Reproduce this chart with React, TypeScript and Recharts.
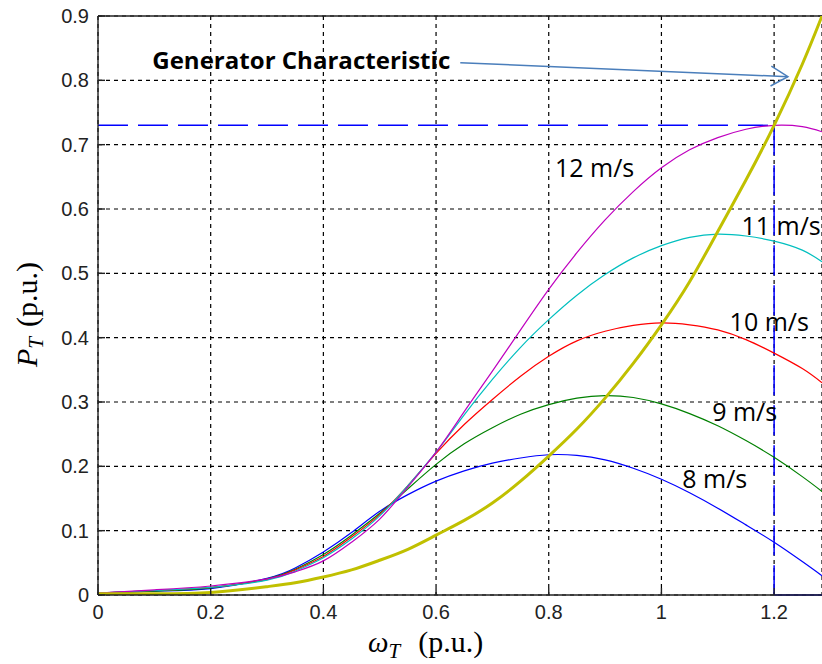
import React from "react";
import {
  LineChart,
  Line,
  XAxis,
  YAxis,
  CartesianGrid,
  ReferenceLine,
  ReferenceDot,
} from "recharts";

// rotor speed (p.u.)
const omega = [0, 0.1, 0.2, 0.3, 0.35, 0.4, 0.45, 0.5, 0.55, 0.6, 0.65, 0.7, 0.75, 0.8, 0.85, 0.9, 0.95, 1.0, 1.05, 1.1, 1.15, 1.2, 1.25, 1.285];

// turbine power (p.u.) per wind speed
const p8 = [0.003, 0.006, 0.010, 0.026, 0.042, 0.067, 0.097, 0.130, 0.156, 0.177, 0.193, 0.205, 0.213, 0.218, 0.217, 0.210, 0.197, 0.180, 0.159, 0.135, 0.109, 0.082, 0.052, 0.030];
const p9 = [0.003, 0.006, 0.011, 0.025, 0.040, 0.063, 0.093, 0.127, 0.165, 0.203, 0.235, 0.260, 0.281, 0.296, 0.306, 0.310, 0.307, 0.297, 0.282, 0.263, 0.240, 0.214, 0.184, 0.161];
const p10 = [0.003, 0.007, 0.012, 0.024, 0.039, 0.060, 0.090, 0.125, 0.170, 0.220, 0.265, 0.304, 0.340, 0.371, 0.395, 0.410, 0.419, 0.423, 0.420, 0.412, 0.397, 0.376, 0.352, 0.330];
const p11 = [0.003, 0.007, 0.012, 0.023, 0.037, 0.058, 0.087, 0.123, 0.170, 0.222, 0.280, 0.335, 0.385, 0.428, 0.466, 0.498, 0.524, 0.543, 0.556, 0.561, 0.558, 0.550, 0.536, 0.518];
const p12 = [0.003, 0.008, 0.014, 0.025, 0.036, 0.053, 0.082, 0.118, 0.168, 0.222, 0.285, 0.348, 0.412, 0.475, 0.532, 0.583, 0.627, 0.664, 0.692, 0.711, 0.724, 0.730, 0.728, 0.720];
// generator characteristic
const gen = [0.002, 0.002, 0.004, 0.013, 0.019, 0.028, 0.039, 0.054, 0.071, 0.093, 0.116, 0.143, 0.177, 0.216, 0.258, 0.306, 0.360, 0.420, 0.487, 0.565, 0.645, 0.730, 0.825, 0.900];

const xTicks = [0, 0.2, 0.4, 0.6, 0.8, 1, 1.2];
const yTicks = [0, 0.1, 0.2, 0.3, 0.4, 0.5, 0.6, 0.7, 0.8, 0.9];

// operating point
const optW = 1.2;
const optP = 0.73;

const speedLabels = [
  { text: "12 m/s", w: 0.811, p: 0.65 },
  { text: "11 m/s", w: 1.142, p: 0.559 },
  { text: "10 m/s", w: 1.121, p: 0.411 },
  { text: "9 m/s", w: 1.09, p: 0.271 },
  { text: "8 m/s", w: 1.037, p: 0.167 },
];

const arrowFrom = { w: 0.643, p: 0.8275 };
const arrowTo = { w: 1.2245, p: 0.8056 };
const genLabel = { text: "Generator Characteristic", w: 0.0963, p: 0.817 };

const series = [
  { key: "p8", color: "#0000ff" },
  { key: "p9", color: "#008000" },
  { key: "p10", color: "#ff0000" },
  { key: "p11", color: "#00bfbf" },
  { key: "p12", color: "#bf00bf" },
];

const data = omega.map((w, i) => ({
  w,
  p8: p8[i],
  p9: p9[i],
  p10: p10[i],
  p11: p11[i],
  p12: p12[i],
  gen: gen[i],
}));

const tickStyle = { fill: "#222", fontSize: 20, fontFamily: "Liberation Sans" };

const XTitle = (props: any) => {
  const vb = props.viewBox || { x: 98, y: 595 };
  return (
    <text x={vb.x + 270} y={vb.y + 57} textAnchor="start" fontFamily="Liberation Serif" fontSize={30} fill="#000">
      <tspan fontStyle="italic" fontSize={29}>ω</tspan>
      <tspan fontStyle="italic" fontSize={21} dy={6}>T</tspan>
      <tspan dy={-6} dx={18}>(p.u.)</tspan>
    </text>
  );
};

const YTitle = (props: any) => {
  const vb = props.viewBox || { x: 38, y: 16 };
  const cx = vb.x - 1;
  const cy = vb.y + 351;
  return (
    <text x={cx} y={cy} transform={`rotate(-90, ${cx}, ${cy})`} textAnchor="start" fontFamily="Liberation Serif" fontSize={30} fill="#000">
      <tspan fontStyle="italic">P</tspan>
      <tspan fontStyle="italic" fontSize={21} dy={6}>T</tspan>
      <tspan dy={-6} dx={10}>(p.u.)</tspan>
    </text>
  );
};

const Arrow = (props: any) => {
  const { x1, y1, x2, y2 } = props;
  const a = Math.atan2(y2 - y1, x2 - x1);
  const len = 17;
  const half = 10;
  const bx = x2 - len * Math.cos(a);
  const by = y2 - len * Math.sin(a);
  const px = -Math.sin(a) * half;
  const py = Math.cos(a) * half;
  return (
    <g stroke="#4a7ebb" strokeWidth={1.5} fill="none">
      <line x1={x1} y1={y1} x2={x2} y2={y2} />
      <polyline points={`${bx + px},${by + py} ${x2},${y2} ${bx - px},${by - py}`} />
    </g>
  );
};

const App: React.FC = () => {
  return (
    <div style={{ position: "absolute", left: 0, top: 0, width: 822, height: 664, background: "#fff" }}>
      <LineChart width={822} height={664} data={data} margin={{ top: 16, right: 0, left: 38, bottom: 29 }}>
        <CartesianGrid stroke="#000" strokeWidth={1.2} strokeDasharray="4 4" />
        <XAxis
          dataKey="w"
          type="number"
          domain={[0, 1.285]}
          ticks={xTicks}
          allowDataOverflow
          height={40}
          stroke="#222"
          strokeWidth={1.4}
          tickSize={-7}
          tickMargin={17}
          tick={tickStyle}
          label={XTitle}
        />
        <YAxis
          type="number"
          domain={[0, 0.9]}
          ticks={yTicks}
          allowDataOverflow
          width={60}
          stroke="#222"
          strokeWidth={1.4}
          tickSize={-7}
          tickMargin={16}
          tick={tickStyle}
          label={YTitle}
        />
        <ReferenceLine y={0.9} stroke="#222" strokeWidth={1.4} />
        <ReferenceLine
          segment={[{ x: 0, y: optP }, { x: optW, y: optP }]}
          stroke="#0000ff"
          strokeWidth={1.5}
          strokeDasharray="30 10"
        />
        <ReferenceLine
          segment={[{ x: optW, y: optP }, { x: optW, y: 0 }]}
          stroke="#0000ff"
          strokeWidth={1.5}
          strokeDasharray="30 10"
        />
        <ReferenceLine
          segment={[{ x: optW, y: 0 }, { x: 1.285, y: 0 }]}
          stroke="#0000ff"
          strokeWidth={1.5}
        />
        {series.map((s) => (
          <Line
            key={s.key}
            type="natural"
            dataKey={s.key}
            stroke={s.color}
            strokeWidth={1.2}
            dot={false}
            isAnimationActive={false}
          />
        ))}
        <Line type="natural" dataKey="gen" stroke="#c0c000" strokeWidth={3} dot={false} isAnimationActive={false} />
        <ReferenceLine
          segment={[{ x: arrowFrom.w, y: arrowFrom.p }, { x: arrowTo.w, y: arrowTo.p }]}
          shape={Arrow}
        />
        <ReferenceDot
          x={genLabel.w}
          y={genLabel.p}
          r={0}
          shape={(p: any) => (
            <text x={p.cx} y={p.cy} fontFamily="Open Sans" fontWeight="bold" fontSize={23} fill="#000" textLength={298} lengthAdjust="spacingAndGlyphs">
              {genLabel.text}
            </text>
          )}
        />
        {speedLabels.map((l) => (
          <ReferenceDot
            key={l.text}
            x={l.w}
            y={l.p}
            r={0}
            shape={(p: any) => (
              <text x={p.cx} y={p.cy} fontFamily="Open Sans" fontSize={25} fill="#000">
                {l.text}
              </text>
            )}
          />
        ))}
      </LineChart>
    </div>
  );
};

export default App;
